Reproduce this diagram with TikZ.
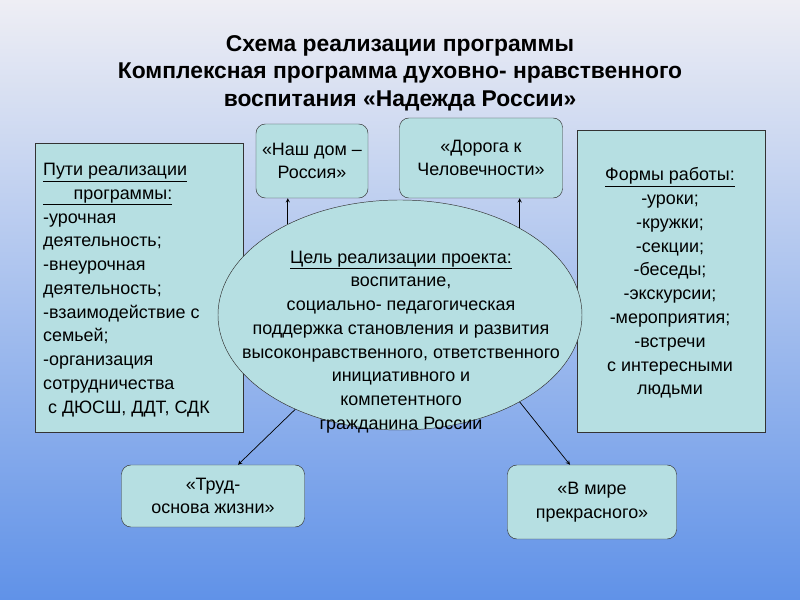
\documentclass[tikz,border=0pt]{standalone}
\usepackage{fontspec}
\setmainfont{Liberation Sans}
\usetikzlibrary{shapes.geometric}
\definecolor{boxfill}{RGB}{182,223,226}
\definecolor{bgtop}{RGB}{238,238,244}
\definecolor{bgbot}{RGB}{96,146,232}
\tikzset{
    box/.style={draw=black!80,fill=boxfill,inner sep=2pt},
    rbox/.style={box,rounded corners=8pt},
    txt/.style={font=\fontsize{15.3}{20.3}\selectfont,align=center},
    arr/.style={-stealth,semithick}
}
\begin{document}
\begin{tikzpicture}[x=0.03cm,y=-0.03cm]
    % background
    \shade[top color=bgtop,bottom color=bgbot] (0,0) rectangle (800,600);
    \useasboundingbox (0,0) rectangle (800,600);

    % title
    \node (title) at (400,73) [font=\bfseries\fontsize{19.5}{23.5}\selectfont,align=center]
        {Схема реализации программы\\Комплексная программа духовно- нравственного\\воспитания «Надежда России»};

    % side boxes
    \draw[box] (35,143) rectangle (243,432);
    \node (ways) at (39,290) [anchor=west,txt,align=left]
        {\underline{Пути  реализации}\\\underline{\hspace*{1.7em}программы:}\\-урочная\\деятельность;\\-внеурочная\\деятельность;\\-взаимодействие с\\семьей;\\-организация\\сотрудничества\\\ с ДЮСШ, ДДТ, СДК};
    \draw[box] (577,130) rectangle (765,432);
    \node (forms) at (670,283) [txt]
        {\underline{Формы работы:}\\-уроки;\\-кружки;\\-секции;\\-беседы;\\-экскурсии;\\-мероприятия;\\-встречи\\с интересными\\людьми};

    % upper and lower boxes
    \node (nash) at (312,161) [rbox,txt,minimum width=3.36cm,minimum height=2.22cm] {«Наш дом –\\Россия»};
    \node (doroga) at (481,158) [rbox,txt,minimum width=4.89cm,minimum height=2.4cm] {«Дорога к\\Человечности»};
    \node (trud) at (213,496) [rbox,txt,minimum width=5.49cm,minimum height=1.86cm] {«Труд-\\основа жизни»};
    \node (mire) at (592,502) [rbox,txt,minimum width=5.07cm,minimum height=2.22cm] {«В мире\\прекрасного»};

    % goal
    \node (goal) at (400,315) [ellipse,box,minimum width=10.92cm,minimum height=6.9cm,inner sep=0pt] {};
    \node (goaltxt) at (401,342) [txt]
        {\underline{Цель реализации проекта:}\\воспитание,\\социально- педагогическая\\поддержка становления и развития\\высоконравственного, ответственного\\инициативного и\\компетентного\hspace*{2.5em}\\гражданина России};

    % arrows
    \draw[arr] (goal.141) -- (goal.141 |- nash.south);
    \draw[arr] (goal.36) -- (goal.36 |- doroga.south);
    \draw[arr] (goal.222) -- ([xshift=0.75cm]trud.north);
    \draw[arr] (goal.324) -- ([xshift=-0.66cm]mire.north);
\end{tikzpicture}
\end{document}
